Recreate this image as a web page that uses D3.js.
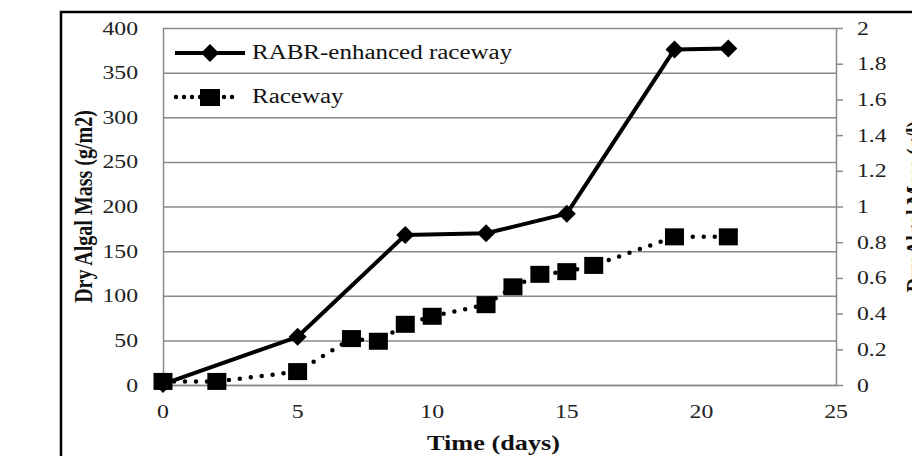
<!DOCTYPE html>
<html>
<head>
<meta charset="utf-8">
<script src="https://cdn.jsdelivr.net/npm/d3@7"></script>
<style>
  body { margin: 0; background: #fff; }
  svg { display: block; font-family: "Liberation Serif", "Times New Roman", serif; }
</style>
</head>
<body>
<div id="chart"></div>
<script>
// data (days, g/m2)
const rabrDays = [0, 5, 9, 12, 15, 19, 21];
const rabrMass = [1, 54, 168, 170, 192, 376, 377];
const racewayDays = [0, 2, 5, 7, 8, 9, 10, 12, 13, 14, 15, 16, 19, 21];
const racewayMass = [4, 4, 15, 52, 49, 68, 77, 90, 110, 124, 127, 134, 166, 166];

const xTicks = [0, 5, 10, 15, 20, 25];
const leftTicks = [0, 50, 100, 150, 200, 250, 300, 350, 400];
const rightTicks = [0, 0.2, 0.4, 0.6, 0.8, 1, 1.2, 1.4, 1.6, 1.8, 2];
const seriesNames = ['RABR-enhanced raceway', 'Raceway'];

const width = 912, height = 456;
const stretch = 1.25; // the picture is a bit wider than tall, text looks stretched

const svg = d3.select('#chart').append('svg')
  .attr('width', width)
  .attr('height', height);

// outer frame, cut off at right and bottom
svg.append('rect')
  .attr('x', 61).attr('y', 12)
  .attr('width', 1000).attr('height', 1000)
  .attr('fill', 'none')
  .attr('stroke', '#000')
  .attr('stroke-width', 2.5);

const x = d3.scaleLinear([0, 25], [163, 836]);
const yL = d3.scaleLinear([0, 400], [385, 28]);
const yR = d3.scaleLinear([0, 2], [385, 28]);

const gridColor = '#8a8a8a';

// horizontal gridlines
svg.append('g')
  .attr('transform', `translate(${x(0)},0)`)
  .call(d3.axisLeft(yL).tickValues(leftTicks).tickSize(-(x(25) - x(0))).tickFormat(''))
  .call(g => g.select('.domain').remove())
  .call(g => g.selectAll('line').attr('stroke', gridColor).attr('stroke-width', 1.5));

// left axis
svg.append('g')
  .attr('transform', `translate(${x(0)},0)`)
  .call(d3.axisLeft(yL).tickValues(leftTicks).tickSize(0).tickPadding(0))
  .call(g => g.select('.domain').attr('stroke', gridColor).attr('stroke-width', 1.5))
  .call(g => g.selectAll('text')
    .attr('x', -25 / stretch)
    .attr('transform', `scale(${stretch},1)`)
    .attr('font-family', 'Liberation Serif')
    .attr('font-size', 19)
    .attr('fill', '#222'));

// right axis
svg.append('g')
  .attr('transform', `translate(${x(25)},0)`)
  .call(d3.axisRight(yR).tickValues(rightTicks).tickSize(7).tickSizeOuter(0).tickFormat(d3.format('~g')))
  .call(g => g.select('.domain').attr('stroke', gridColor).attr('stroke-width', 1.5))
  .call(g => g.selectAll('line').attr('stroke', gridColor).attr('stroke-width', 1.5))
  .call(g => g.selectAll('text')
    .attr('x', 21 / stretch)
    .attr('transform', `scale(${stretch},1)`)
    .attr('font-family', 'Liberation Serif')
    .attr('font-size', 19)
    .attr('fill', '#222'));

// bottom axis
svg.append('g')
  .attr('transform', `translate(0,${yL(0)})`)
  .call(d3.axisBottom(x).tickValues(xTicks).tickSize(0).tickPadding(20))
  .call(g => g.select('.domain').attr('stroke', gridColor).attr('stroke-width', 1.5))
  .call(g => g.selectAll('text')
    .attr('transform', `scale(${stretch},1)`)
    .attr('font-family', 'Liberation Serif')
    .attr('font-size', 19)
    .attr('fill', '#222'))
  .call(g => g.selectAll('.tick').attr('transform', d => `translate(${x(d)},0)`))
  .call(g => g.selectAll('.tick text').attr('x', 0));

// axis titles
svg.append('text')
  .attr('transform', `translate(${(x(0) + x(25)) / 2 - 6},450) scale(${stretch},1)`)
  .attr('text-anchor', 'middle')
  .attr('font-weight', 'bold')
  .attr('font-size', 21)
  .attr('fill', '#111')
  .text('Time (days)');

svg.append('text')
  .attr('transform', `translate(92,${(yL(0) + yL(400)) / 2}) rotate(-90) scale(1,${stretch})`)
  .attr('text-anchor', 'middle')
  .attr('font-weight', 'bold')
  .attr('font-size', 20)
  .attr('fill', '#111')
  .text('Dry Algal Mass (g/m2)');

svg.append('text')
  .attr('transform', `translate(924,${(yL(0) + yL(400)) / 2}) rotate(-90) scale(1,${stretch})`)
  .attr('text-anchor', 'middle')
  .attr('font-weight', 'bold')
  .attr('font-size', 20)
  .attr('fill', '#111')
  .text('Dry Algal Mass (g/l)');

const rabr = rabrDays.map((d, i) => ({ day: d, mass: rabrMass[i] }));
const raceway = racewayDays.map((d, i) => ({ day: d, mass: racewayMass[i] }));

const line = d3.line().x(d => x(d.day)).y(d => yL(d.mass));

// raceway, dotted with squares
svg.append('path')
  .datum(raceway)
  .attr('d', line)
  .attr('fill', 'none')
  .attr('stroke', '#000')
  .attr('stroke-width', 4.5)
  .attr('stroke-linecap', 'round')
  .attr('stroke-dasharray', '0 11');

svg.append('g').selectAll('rect')
  .data(raceway)
  .join('rect')
  .attr('x', d => x(d.day) - 9.5)
  .attr('y', d => yL(d.mass) - 8.5)
  .attr('width', 19)
  .attr('height', 17)
  .attr('fill', '#000');

// RABR, solid with diamonds
svg.append('path')
  .datum(rabr)
  .attr('d', line)
  .attr('fill', 'none')
  .attr('stroke', '#000')
  .attr('stroke-width', 4)
  .attr('stroke-linejoin', 'round');

const diamond = (cx, cy) => `M${cx},${cy - 9}L${cx + 9},${cy}L${cx},${cy + 9}L${cx - 9},${cy}Z`;

svg.append('g').selectAll('path')
  .data(rabr)
  .join('path')
  .attr('d', d => diamond(x(d.day), yL(d.mass)))
  .attr('fill', '#000');

// legend
const legend = svg.append('g');
legend.append('line')
  .attr('x1', 175).attr('x2', 245).attr('y1', 53).attr('y2', 53)
  .attr('stroke', '#000').attr('stroke-width', 4);
legend.append('path').attr('d', diamond(210, 53)).attr('fill', '#000');
legend.append('text')
  .attr('transform', `translate(252,59) scale(${stretch},1)`)
  .attr('font-size', 20)
  .attr('fill', '#111')
  .text(seriesNames[0]);

legend.append('line')
  .attr('x1', 176).attr('x2', 240).attr('y1', 97).attr('y2', 97)
  .attr('stroke', '#000').attr('stroke-width', 4.5)
  .attr('stroke-linecap', 'round')
  .attr('stroke-dasharray', '0 8');
legend.append('rect')
  .attr('x', 200).attr('y', 89).attr('width', 20).attr('height', 17)
  .attr('fill', '#000');
legend.append('text')
  .attr('transform', `translate(252,103) scale(${stretch},1)`)
  .attr('font-size', 20)
  .attr('fill', '#111')
  .text(seriesNames[1]);
</script>
</body>
</html>
